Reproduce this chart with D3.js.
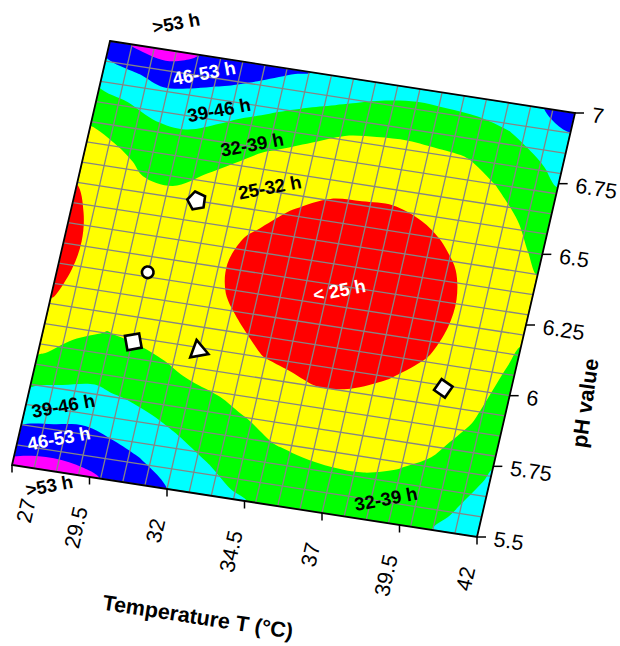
<!DOCTYPE html>
<html>
<head>
<meta charset="utf-8">
<script src="https://cdn.jsdelivr.net/npm/d3@7/dist/d3.min.js"></script>
<style>
  html, body { margin: 0; padding: 0; background: #fff; }
  svg { display: block; }
  text { font-family: "Liberation Sans", Arial, Helvetica, sans-serif; }
</style>
</head>
<body>
<svg id="chart" width="620" height="646"></svg>
<script>
// Fermentation time (h) as a function of temperature and pH
const tempValues = [27, 28, 29, 30, 31, 32, 33, 34, 35, 36, 37, 38, 39, 40, 41, 42];
const phValues = [5.5, 5.6, 5.7, 5.8, 5.9, 6.0, 6.1, 6.2, 6.3, 6.4, 6.5, 6.6, 6.7, 6.8, 6.9, 7.0];
// one row per pH value (ascending), one column per temperature (ascending)
const timeGrid = [
  [55.0, 55.9, 54.8, 52.6, 49.2, 46.0, 43.1, 39.9, 38.3, 37.2, 36.3, 36.1, 36.6, 37.8, 40.0, 42.8],
  [48.3, 49.5, 49.6, 47.7, 45.5, 42.2, 39.5, 37.1, 35.3, 34.3, 33.6, 33.5, 34.1, 35.4, 38.3, 41.2],
  [42.9, 43.8, 44.6, 43.1, 40.9, 38.5, 36.3, 34.3, 32.3, 31.4, 31.0, 31.0, 31.7, 33.1, 36.1, 39.6],
  [37.6, 39.0, 39.7, 38.4, 36.7, 34.9, 33.1, 31.5, 29.6, 28.5, 28.4, 28.9, 29.8, 30.8, 33.8, 38.0],
  [31.3, 34.3, 35.9, 34.7, 33.0, 31.3, 30.5, 28.3, 26.6, 25.6, 25.8, 26.8, 28.0, 29.0, 31.6, 36.4],
  [27.9, 30.5, 32.2, 31.3, 30.3, 28.7, 28.2, 25.1, 24.2, 23.5, 23.8, 24.7, 26.1, 27.6, 30.1, 34.8],
  [24.6, 28.1, 29.8, 29.5, 28.6, 26.8, 25.2, 23.6, 22.8, 22.0, 22.3, 23.3, 24.5, 26.6, 29.1, 33.1],
  [23.5, 26.8, 28.5, 28.5, 27.7, 25.8, 23.9, 22.4, 21.6, 21.0, 21.3, 22.2, 23.6, 26.0, 28.5, 31.6],
  [23.1, 26.5, 28.2, 28.3, 27.5, 25.6, 23.3, 22.0, 21.2, 20.8, 21.0, 21.8, 23.3, 25.9, 28.3, 30.2],
  [23.6, 27.0, 28.8, 29.0, 28.2, 26.2, 24.2, 22.5, 21.7, 21.2, 21.5, 22.3, 24.0, 26.4, 28.8, 31.4],
  [25.1, 28.3, 30.5, 30.9, 29.6, 27.6, 26.3, 24.3, 23.3, 22.6, 22.8, 23.8, 25.6, 27.4, 30.0, 33.7],
  [28.2, 30.4, 33.2, 33.8, 32.0, 30.2, 28.6, 27.0, 25.5, 25.4, 25.3, 26.2, 27.7, 29.1, 32.0, 35.8],
  [32.0, 34.0, 36.7, 37.3, 35.7, 33.0, 31.2, 29.7, 28.7, 28.1, 28.2, 29.0, 29.9, 31.5, 34.8, 37.9],
  [36.7, 39.0, 41.2, 41.8, 40.1, 38.0, 35.9, 33.6, 32.0, 31.3, 31.1, 31.7, 32.3, 34.9, 37.6, 40.9],
  [43.2, 45.4, 48.0, 46.8, 45.5, 43.7, 41.5, 39.8, 38.1, 36.6, 36.3, 36.7, 37.0, 38.6, 41.3, 44.8],
  [50.0, 54.5, 56.0, 52.5, 50.8, 48.8, 46.8, 45.2, 44.0, 42.3, 41.2, 41.5, 42.5, 44.5, 46.0, 48.5]
];
const levels = [25, 32, 39, 46, 53];
const bandColors = ["#ff0000", "#ffff00", "#00ff00", "#00ffff", "#0000ff", "#ff00ff"];
const bandNames = ["< 25 h", "25-32 h", "32-39 h", "39-46 h", "46-53 h", ">53 h"];
const xTicks = [27, 29.5, 32, 34.5, 37, 39.5, 42];
const yTicks = [5.5, 5.75, 6, 6.25, 6.5, 6.75, 7];
// experimental runs
const runShapes = ["pentagon", "circle", "square", "triangle", "diamond"];
const runTemps = [30.85, 29.84, 29.89, 31.98, 39.88];
const runPH = [6.50, 6.23, 5.985, 5.99, 5.99];
// band labels: which band, and where (T, pH)
const labelBand = [5, 4, 3, 2, 1, 0, 3, 4, 5, 2];
const labelTemps = [28.93, 30.16, 30.89, 32.17, 33.03, 35.94, 28.17, 28.27, 28.31, 38.89];
const labelPH = [7.096, 6.94, 6.822, 6.721, 6.585, 6.27, 5.729, 5.616, 5.449, 5.582];
const meshDivisions = 21;

const svg = d3.select("#chart");

// Oblique view of the T-pH plane: unit square -> parallelogram on screen
const tUnit = d3.scaleLinear().domain([tempValues[0], tempValues[tempValues.length - 1]]).range([0, 1]);
const pUnit = d3.scaleLinear().domain([phValues[phValues.length - 1], phValues[0]]).range([0, 1]);
const origin = [110, 41], uAxis = [465, 72], vAxis = [-98, 424];
function project(T, pH) {
  const s = tUnit(T), t = pUnit(pH);
  return [origin[0] + s * uAxis[0] + t * vAxis[0], origin[1] + s * uAxis[1] + t * vAxis[1]];
}

const T0 = tempValues[0], T1 = tempValues[tempValues.length - 1];
const P0 = phValues[0], P1 = phValues[phValues.length - 1];
const frame = [project(T0, P1), project(T1, P1), project(T1, P0), project(T0, P0)];
const framePath = "M" + frame.map(p => p.join(",")).join("L") + "Z";

svg.append("defs").append("clipPath").attr("id", "plotClip")
  .append("path").attr("d", framePath);

const plot = svg.append("g").attr("clip-path", "url(#plotClip)");

// lowest band fills the whole plane
plot.append("path").attr("d", framePath).attr("fill", bandColors[0]);

const nx = tempValues.length, ny = phValues.length;
const contours = d3.contours().size([nx, ny]).thresholds(levels)(timeGrid.flat());
const gx = d3.scaleLinear().domain([0.5, nx - 0.5]).range([T0, T1]);
const gy = d3.scaleLinear().domain([0.5, ny - 0.5]).range([P0, P1]);

// each ring is drawn as a smooth closed curve through its contour vertices
const ringLine = d3.line().curve(d3.curveCatmullRomClosed.alpha(0.5));
function bandPath(mp) {
  let d = "";
  mp.coordinates.forEach(poly => {
    poly.forEach(ring => {
      const pts = ring.slice(0, ring.length - 1).map(([x, y]) => project(gx(x), gy(y)));
      const cleaned = pts.filter((p, i) => {
        const q = pts[(i + pts.length - 1) % pts.length];
        return Math.hypot(p[0] - q[0], p[1] - q[1]) > 0.2;
      });
      if (cleaned.length > 2) d += ringLine(cleaned);
    });
  });
  return d;
}
plot.selectAll("path.band").data(contours).join("path")
  .attr("class", "band")
  .attr("d", bandPath)
  .attr("fill-rule", "evenodd")
  .attr("fill", (d, i) => bandColors[i + 1]);

// mesh
const meshT = d3.range(meshDivisions + 1).map(i => T0 + i * (T1 - T0) / meshDivisions);
const meshP = d3.range(meshDivisions + 1).map(i => P0 + i * (P1 - P0) / meshDivisions);
const mesh = plot.append("g").attr("stroke", "#858585").attr("stroke-width", 1.3).attr("fill", "none");
meshT.forEach(T => {
  const a = project(T, P0), b = project(T, P1);
  mesh.append("line").attr("x1", a[0]).attr("y1", a[1]).attr("x2", b[0]).attr("y2", b[1]);
});
meshP.forEach(p => {
  const a = project(T0, p), b = project(T1, p);
  mesh.append("line").attr("x1", a[0]).attr("y1", a[1]).attr("x2", b[0]).attr("y2", b[1]);
});

// frame
svg.append("path").attr("d", framePath).attr("fill", "none")
  .attr("stroke", "#000").attr("stroke-width", 1.8).attr("stroke-linejoin", "miter");

// temperature axis along the lower edge
const xAxisG = svg.append("g");
xTicks.forEach(T => {
  const p = project(T, P0);
  xAxisG.append("line").attr("x1", p[0]).attr("y1", p[1]).attr("x2", p[0]).attr("y2", p[1] + 7.5)
    .attr("stroke", "#000").attr("stroke-width", 1.5);
  const lx = p[0] - 9, ly = p[1] + 30;
  const t = xAxisG.append("text")
    .attr("transform", `translate(${lx},${ly}) rotate(-77)`)
    .attr("text-anchor", "end").attr("dy", "0.35em")
    .attr("font-size", 21.5).attr("fill", "#000")
    .text(d3.format("")(T));
  const r = t.node().getBoundingClientRect();
  if (r.left < 10) {
    t.attr("transform", `translate(${lx + 10 - r.left + 2},${ly + 4}) rotate(-77)`);
  }
});

// pH axis along the right edge
const yAxisG = svg.append("g");
yTicks.forEach(pH => {
  const p = project(T1, pH);
  yAxisG.append("line").attr("x1", p[0]).attr("y1", p[1]).attr("x2", p[0] + 9).attr("y2", p[1])
    .attr("stroke", "#000").attr("stroke-width", 1.5);
  yAxisG.append("text")
    .attr("transform", `translate(${p[0] + 17},${p[1] + 1.5}) rotate(8.8)`)
    .attr("text-anchor", "start").attr("dy", "0.35em")
    .attr("font-size", 21.5).attr("fill", "#000")
    .text(d3.format("")(pH));
});

// axis titles
const xMid = project((T0 + T1) / 2, P0);
svg.append("text")
  .attr("transform", `translate(${xMid[0] - 46.6},${xMid[1] + 115.7}) rotate(8.8)`)
  .attr("text-anchor", "middle").attr("dy", "0.35em")
  .attr("font-size", 21.5).attr("font-weight", "bold").attr("fill", "#000")
  .text("Temperature T (°C)");
const yMid = project(T1, (P0 + P1) / 2);
svg.append("text")
  .attr("transform", `translate(${yMid[0] + 59},${yMid[1] + 78}) rotate(-82)`)
  .attr("text-anchor", "middle").attr("dy", "0.35em")
  .attr("font-size", 21.5).attr("font-weight", "bold").attr("fill", "#000")
  .text("pH value");

// band labels
labelBand.forEach((b, i) => {
  const p = project(labelTemps[i], labelPH[i]);
  svg.append("text")
    .attr("transform", `translate(${p[0]},${p[1]}) rotate(-10.5)`)
    .attr("text-anchor", "middle").attr("dy", "0.35em")
    .attr("font-size", 18.5).attr("font-weight", "bold")
    .attr("fill", (b === 0 || b === 4) ? "#fff" : "#000")
    .text(bandNames[b]);
});

// experimental runs
function polygonPoints(n, r, startDeg) {
  return d3.range(n).map(k => {
    const a = (startDeg + k * 360 / n) * Math.PI / 180;
    return [r * Math.cos(a), r * Math.sin(a)];
  });
}
const shapeSpec = {
  pentagon: () => polygonPoints(5, 9.5, -90),
  square: () => polygonPoints(4, 10.2, -45),
  triangle: () => polygonPoints(3, 10.6, -90),
  diamond: () => polygonPoints(4, 9.4, -90)
};
const runs = svg.append("g").attr("fill", "#fff").attr("stroke", "#000").attr("stroke-width", 2.6)
  .attr("stroke-linejoin", "miter");
runShapes.forEach((shape, i) => {
  const p = project(runTemps[i], runPH[i]);
  const g = runs.append("g").attr("transform", `translate(${p[0]},${p[1]}) rotate(-10)`);
  if (shape === "circle") {
    g.append("circle").attr("r", 5.8);
  } else {
    g.append("polygon").attr("points", shapeSpec[shape]().map(q => q.join(",")).join(" "));
  }
});
</script>
</body>
</html>
